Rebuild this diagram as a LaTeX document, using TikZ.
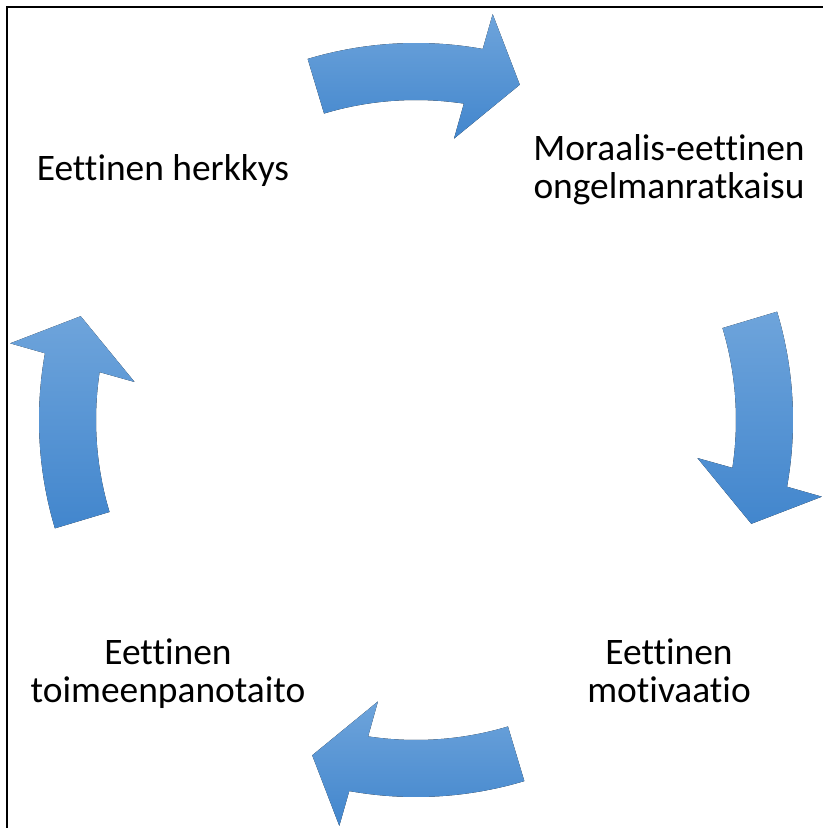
\documentclass[tikz,border=0pt]{standalone}
\usepackage{fontspec}
\setmainfont{Carlito}[Ligatures={NoCommon}]
\usetikzlibrary{positioning}
\definecolor{ArrowLight}{RGB}{110, 164, 219}
\definecolor{ArrowDark}{RGB}{66, 134, 205}

\begin{document}
\begin{tikzpicture}[
    x=0.02cm, y=0.02cm,
    label/.style={align=center, anchor=base, inner sep=0pt, font=\fontsize{21.3}{21.6}\selectfont},
    cyclearrow/.style={top color=ArrowLight, bottom color=ArrowDark, draw=none},
    frame/.style={draw=black, line width=1.1pt}
]
    \useasboundingbox (0,0) rectangle (823,-828);
    \coordinate (c) at (416,-420);

    % Frame (left and top edges)
    \draw [frame] (7,-828) -- (7,-7) -- (823,-7);

    % Nodes placement (base = last line)
    \node (herkkys) [label] at (163,-180) {Eettinen herkkys};
    \node (ongelma) [label] at (669,-198) {Moraalis-eettinen\\ongelmanratkaisu};
    \node (motivaatio) [label] at (669,-702) {Eettinen\\motivaatio};
    \node (toimeenpano) [label] at (168,-702) {Eettinen\\toimeenpanotaito};

    % Curved block arrows round the cycle
    \fill [cyclearrow, shift={(c)}] (106.7:377) arc[start angle=106.7, end angle=79.8, radius=377]
        -- (79.3:413) -- (72.8:351) -- (82.3:284) -- (81.4:320)
        arc[start angle=81.4, end angle=106.7, radius=320] -- cycle;
    \fill [cyclearrow, shift={(c)}] (16.7:377) arc[start angle=16.7, end angle=-10.2, radius=377]
        -- (-10.7:413) -- (-17.2:351) -- (-7.7:284) -- (-8.6:320)
        arc[start angle=-8.6, end angle=16.7, radius=320] -- cycle;
    \fill [cyclearrow, shift={(c)}] (-73.3:377) arc[start angle=-73.3, end angle=-100.2, radius=377]
        -- (-100.7:413) -- (-107.2:351) -- (-97.7:284) -- (-98.6:320)
        arc[start angle=-98.6, end angle=-73.3, radius=320] -- cycle;
    \fill [cyclearrow, shift={(c)}] (196.7:377) arc[start angle=196.7, end angle=169.8, radius=377]
        -- (169.3:413) -- (162.8:351) -- (172.3:284) -- (171.4:320)
        arc[start angle=171.4, end angle=196.7, radius=320] -- cycle;

\end{tikzpicture}
\end{document}
